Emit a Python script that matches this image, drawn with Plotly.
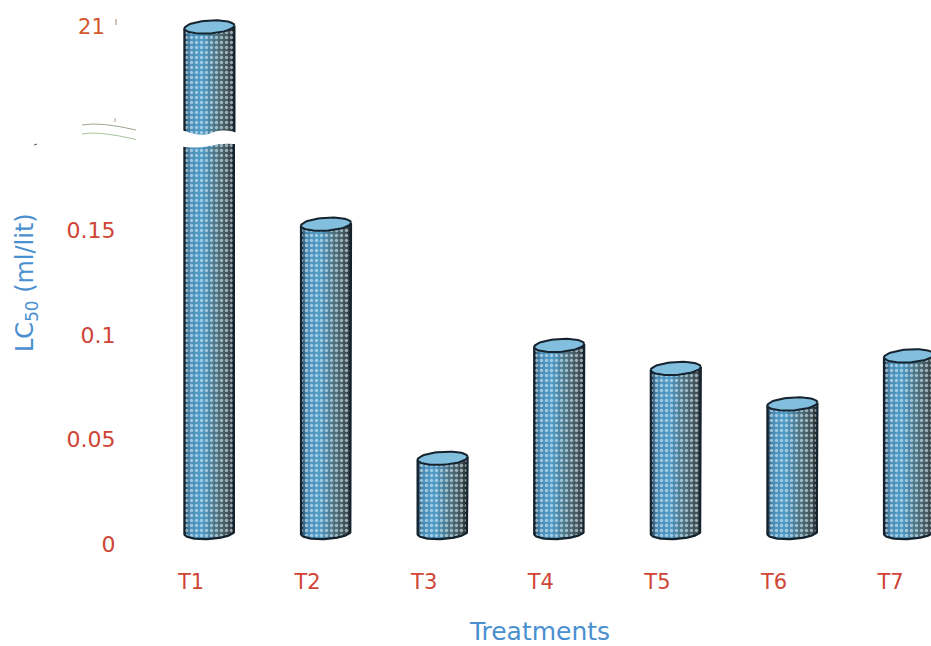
import math
import plotly.graph_objects as go

# LC50 per treatment; T1 sits above the axis break
treatments = ["T1", "T2", "T3", "T4", "T5", "T6", "T7"]
lc50 = [21.0, 0.153, 0.041, 0.095, 0.084, 0.067, 0.09]
lower_ticks = [0, 0.05, 0.1, 0.15]
lower_tick_text = ["0", "0.05", "0.1", "0.15"]
upper_ticks = [21]
upper_tick_text = ["21"]

W, H = 931, 646
RED = "#cf4434"
ORANGE = "#d4582c"
BLUE = "#4a8fd0"
EDGE = "#14232e"
FONT = "DejaVu Sans, sans-serif"

# pixel geometry of the two stacked panels
PLOT_L = 149
BREAK_PX = 138
LOW_PER_PX = 0.05 / 104.5
UP_PER_PX = 0.0125
ZERO_PX = 544
TOP_PX = 27
x_unit = 116.6
x_first = 191
low_range = [-(H - ZERO_PX) * LOW_PER_PX, (ZERO_PX - BREAK_PX) * LOW_PER_PX]
up_range = [21 - (BREAK_PX - TOP_PX) * UP_PER_PX, 21 + TOP_PX * UP_PER_PX]
x_range = [1 + (PLOT_L - x_first) / x_unit, 1 + (W - x_first) / x_unit]

BAR_SHIFT = 18.4 / x_unit
HALF = 25.0 / x_unit
ELL_B = 6.5
TILT = 1.5
BASE_VALUE = 0.0055
N_STRIPS = 25
N_MESH = 10

# horizontal shading of the cylinder wall, left to right
stops = [(0.0, (20, 35, 45)), (0.04, (50, 90, 115)), (0.12, (74, 140, 182)),
         (0.36, (80, 156, 200)), (0.52, (76, 130, 160)), (0.68, (76, 110, 122)),
         (0.92, (62, 74, 78)), (1.0, (22, 30, 34))]


def shade(t):
    for (a, ca), (b, cb) in zip(stops, stops[1:]):
        if t <= b:
            f = (t - a) / (b - a)
            return "rgb(%d,%d,%d)" % tuple(round(p + (q - p) * f) for p, q in zip(ca, cb))
    return "rgb(22,30,34)"


def arc(center, per_px, start, stop, steps=40):
    """Tilted ellipse arc around (center x, value) in axis units."""
    cx, cy = center
    xs, ys = [], []
    for k in range(steps + 1):
        th = start + (stop - start) * k / steps
        xs.append(cx + HALF * math.cos(th))
        ys.append(cy + (ELL_B * math.sin(th) + TILT * math.cos(th)) * per_px)
    return xs, ys


def strip_bars(indices, per_px, count, widen):
    bx, by, bb, bw, bt = [], [], [], [], []
    for i in indices:
        cx = i + 1 + BAR_SHIFT
        for s in range(count):
            t = (s + 0.5) / count
            u = 2 * t - 1
            foot = BASE_VALUE + (-ELL_B * math.sqrt(max(0, 1 - u * u)) + TILT * u) * LOW_PER_PX
            if per_px != LOW_PER_PX:
                foot = up_range[0] - 1
            bx.append(cx + u * HALF)
            bb.append(foot)
            by.append(lc50[i] - foot)
            bw.append(2 * HALF / count * widen)
            bt.append(t)
    return bx, by, bb, bw, bt


fig = go.Figure()


def add_panel(indices, per_px, xref, yref):
    # shaded wall built from narrow vertical strips
    bx, by, bb, bw, bt = strip_bars(indices, per_px, N_STRIPS, 1.15)
    fig.add_trace(go.Bar(x=bx, y=by, base=bb, width=bw, xaxis=xref, yaxis=yref,
                         showlegend=False, hoverinfo="skip",
                         marker=dict(color=[shade(t) for t in bt], line=dict(width=0))))
    # honeycomb mesh laid over the shading
    bx, by, bb, bw, bt = strip_bars(indices, per_px, N_MESH, 1.0)
    fig.add_trace(go.Bar(x=bx, y=by, base=bb, width=bw, xaxis=xref, yaxis=yref,
                         showlegend=False, hoverinfo="skip",
                         marker=dict(color="rgba(0,0,0,0)", line=dict(width=0),
                                     pattern=dict(shape=".", size=5, solidity=0.36,
                                                  fgcolor="#d8eef8", fgopacity=0.6,
                                                  bgcolor="rgba(0,0,0,0)"))))
    for i in indices:
        cx = i + 1 + BAR_SHIFT
        # wall outline and foot
        if per_px == LOW_PER_PX:
            ax, ay = arc((cx, BASE_VALUE), LOW_PER_PX, 0, -math.pi)
            ox = [cx + HALF] + ax + [cx - HALF]
            oy = [lc50[i] + TILT * per_px] + ay + [lc50[i] - TILT * per_px]
        else:
            ox = [cx + HALF, cx + HALF, None, cx - HALF, cx - HALF]
            oy = [lc50[i] + TILT * per_px, up_range[0] - 1, None, up_range[0] - 1, lc50[i] - TILT * per_px]
        fig.add_trace(go.Scatter(x=ox, y=oy, mode="lines", xaxis=xref, yaxis=yref,
                                 line=dict(color=EDGE, width=2.2), showlegend=False,
                                 hoverinfo="skip"))
        # open mouth of the cylinder
        if lc50[i] < low_range[1] or per_px != LOW_PER_PX:
            ex, ey = arc((cx, lc50[i]), per_px, 0, 2 * math.pi, 60)
            fig.add_trace(go.Scatter(x=ex, y=ey, mode="lines", fill="toself",
                                     fillcolor="#82bedd", xaxis=xref, yaxis=yref,
                                     line=dict(color=EDGE, width=2), showlegend=False,
                                     hoverinfo="skip"))


add_panel(range(len(lc50)), LOW_PER_PX, "x", "y")
add_panel([0], UP_PER_PX, "x2", "y2")


def px(x):
    return x / W


def py(y):
    return 1 - y / H


# white torn gap through the tall bar
gap_path = (
    f"M {px(178)} {py(128)} Q {px(195)} {py(137)} {px(209)} {py(134)} "
    f"Q {px(222)} {py(127)} {px(241)} {py(134)} L {px(241)} {py(145)} "
    f"Q {px(225)} {py(142)} {px(209)} {py(146)} Q {px(195)} {py(149)} {px(178)} {py(146)} Z"
)
shapes = [dict(type="path", path=gap_path, xref="paper", yref="paper",
               fillcolor="white", line=dict(width=0), layer="above")]
# axis-break strokes and the faint specks next to them
for (x0, y0, xm, ym, x1, y1, col) in [(82, 125, 100, 121.5, 136, 130, "#9aa890"),
                                      (82, 134, 98, 130.5, 136, 139.5, "#a9c49a")]:
    shapes.append(dict(type="path", xref="paper", yref="paper",
                       path=f"M {px(x0)} {py(y0)} Q {px(xm)} {py(ym)} {px(x1)} {py(y1)}",
                       line=dict(color=col, width=1)))
for (x0, y0, x1, y1, col) in [(115, 118, 115, 122, "#b09a80"), (116, 19, 116, 25, "#a08a70"),
                              (34, 145, 37, 144, "#555555")]:
    shapes.append(dict(type="line", xref="paper", yref="paper", x0=px(x0), y0=py(y0),
                       x1=px(x1), y1=py(y1), line=dict(color=col, width=1)))

fig.update_layout(
    width=W, height=H, margin=dict(l=0, r=0, t=0, b=0, autoexpand=False),
    paper_bgcolor="white", plot_bgcolor="rgba(0,0,0,0)",
    barmode="overlay", bargap=0, showlegend=False, shapes=shapes,
    xaxis=dict(domain=[PLOT_L / W, 1], range=x_range, anchor="free",
               position=py(567), tickmode="array", tickvals=list(range(1, 8)),
               ticktext=treatments, showgrid=False, zeroline=False, showline=False,
               ticks="", tickfont=dict(family=FONT, size=21, color=RED),
               title=dict(text="Treatments", standoff=30,
                          font=dict(family=FONT, size=25, color=BLUE))),
    xaxis2=dict(domain=[PLOT_L / W, 1], range=x_range, anchor="y2", visible=False),
    yaxis=dict(domain=[0, py(BREAK_PX)], range=low_range, anchor="x",
               tickmode="array", tickvals=lower_ticks, ticktext=lower_tick_text,
               showgrid=False, zeroline=False, showline=False, ticks="outside",
               ticklen=28, tickcolor="rgba(0,0,0,0)",
               tickfont=dict(family=FONT, size=22, color=RED)),
    yaxis2=dict(domain=[py(BREAK_PX), 1], range=up_range, anchor="x2",
                tickmode="array", tickvals=upper_ticks, ticktext=upper_tick_text,
                showgrid=False, zeroline=False, showline=False, ticks="outside",
                ticklen=39, tickcolor="rgba(0,0,0,0)",
                tickfont=dict(family=FONT, size=21, color=ORANGE)),
    annotations=[dict(text="LC<sub>50</sub> (ml/lit)", xref="paper", yref="paper",
                      x=px(27), y=py(283), textangle=-90, showarrow=False,
                      xanchor="center", yanchor="middle",
                      font=dict(family=FONT, size=24, color=BLUE))],
)

fig.write_html("out.html")
